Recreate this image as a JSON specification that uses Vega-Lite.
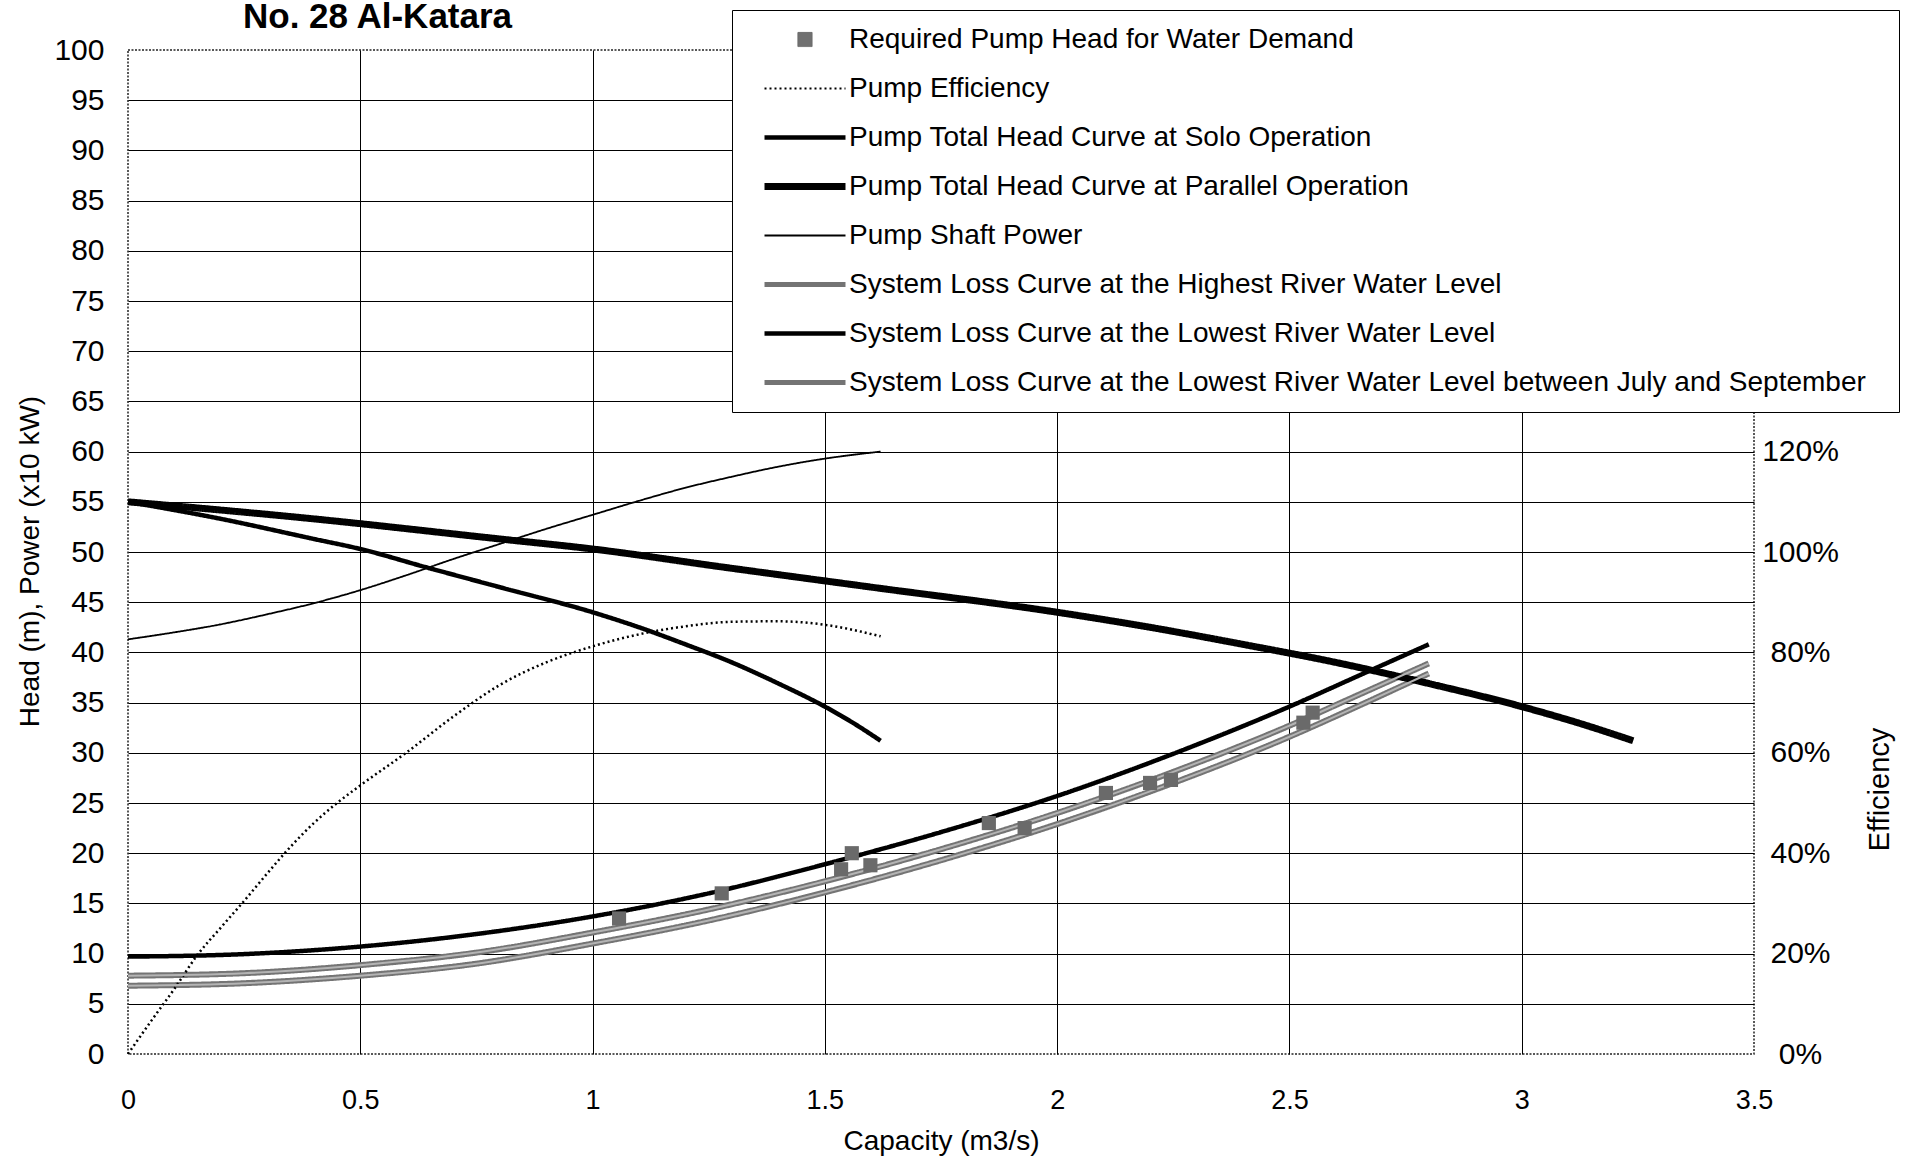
{
  "$schema": "https://vega.github.io/schema/vega-lite/v6.json",
  "width": 1626,
  "height": 1004,
  "autosize": {"type": "none"},
  "padding": {"left": 128, "top": 50, "right": 155, "bottom": 107},
  "background": "white",
  "config": {
    "view": {"stroke": "#222222", "strokeWidth": 1.5, "strokeDash": [2, 1.5]},
    "font": "Liberation Sans"
  },
  "title": {
    "text": "No. 28 Al-Katara",
    "anchor": "start",
    "frame": "group",
    "dx": 115,
    "dy": 59,
    "offset": 6,
    "fontSize": 35,
    "fontWeight": "bold",
    "font": "Liberation Sans",
    "color": "black",
    "baseline": "alphabetic"
  },
  "datasets": {
    "curves": [
      {"series": "System Loss Curve at the Highest River Water Level", "Q": 0, "v": 6.8},
      {"series": "System Loss Curve at the Highest River Water Level", "Q": 0.25, "v": 7.05},
      {"series": "System Loss Curve at the Highest River Water Level", "Q": 0.5, "v": 7.8},
      {"series": "System Loss Curve at the Highest River Water Level", "Q": 0.75, "v": 9.0},
      {"series": "System Loss Curve at the Highest River Water Level", "Q": 1.0, "v": 11.0},
      {"series": "System Loss Curve at the Highest River Water Level", "Q": 1.25, "v": 13.3},
      {"series": "System Loss Curve at the Highest River Water Level", "Q": 1.5, "v": 16.1},
      {"series": "System Loss Curve at the Highest River Water Level", "Q": 1.75, "v": 19.3},
      {"series": "System Loss Curve at the Highest River Water Level", "Q": 2.0, "v": 22.9},
      {"series": "System Loss Curve at the Highest River Water Level", "Q": 2.25, "v": 27.0},
      {"series": "System Loss Curve at the Highest River Water Level", "Q": 2.5, "v": 31.6},
      {"series": "System Loss Curve at the Highest River Water Level", "Q": 2.65, "v": 34.7},
      {"series": "System Loss Curve at the Highest River Water Level", "Q": 2.8, "v": 37.9},
      {"series": "System Loss Curve at the Lowest River Water Level between July and September", "Q": 0, "v": 7.8},
      {"series": "System Loss Curve at the Lowest River Water Level between July and September", "Q": 0.25, "v": 8.05},
      {"series": "System Loss Curve at the Lowest River Water Level between July and September", "Q": 0.5, "v": 8.85},
      {"series": "System Loss Curve at the Lowest River Water Level between July and September", "Q": 0.75, "v": 10.1},
      {"series": "System Loss Curve at the Lowest River Water Level between July and September", "Q": 1.0, "v": 12.1},
      {"series": "System Loss Curve at the Lowest River Water Level between July and September", "Q": 1.25, "v": 14.4},
      {"series": "System Loss Curve at the Lowest River Water Level between July and September", "Q": 1.5, "v": 17.2},
      {"series": "System Loss Curve at the Lowest River Water Level between July and September", "Q": 1.75, "v": 20.4},
      {"series": "System Loss Curve at the Lowest River Water Level between July and September", "Q": 2.0, "v": 24.0},
      {"series": "System Loss Curve at the Lowest River Water Level between July and September", "Q": 2.25, "v": 28.1},
      {"series": "System Loss Curve at the Lowest River Water Level between July and September", "Q": 2.5, "v": 32.7},
      {"series": "System Loss Curve at the Lowest River Water Level between July and September", "Q": 2.65, "v": 35.8},
      {"series": "System Loss Curve at the Lowest River Water Level between July and September", "Q": 2.8, "v": 38.9},
      {"series": "System Loss Curve at the Lowest River Water Level", "Q": 0, "v": 9.7},
      {"series": "System Loss Curve at the Lowest River Water Level", "Q": 0.25, "v": 9.95},
      {"series": "System Loss Curve at the Lowest River Water Level", "Q": 0.5, "v": 10.7},
      {"series": "System Loss Curve at the Lowest River Water Level", "Q": 0.75, "v": 11.95},
      {"series": "System Loss Curve at the Lowest River Water Level", "Q": 1.0, "v": 13.7},
      {"series": "System Loss Curve at the Lowest River Water Level", "Q": 1.25, "v": 16.0},
      {"series": "System Loss Curve at the Lowest River Water Level", "Q": 1.5, "v": 18.9},
      {"series": "System Loss Curve at the Lowest River Water Level", "Q": 1.75, "v": 22.1},
      {"series": "System Loss Curve at the Lowest River Water Level", "Q": 2.0, "v": 25.7},
      {"series": "System Loss Curve at the Lowest River Water Level", "Q": 2.25, "v": 29.9},
      {"series": "System Loss Curve at the Lowest River Water Level", "Q": 2.5, "v": 34.6},
      {"series": "System Loss Curve at the Lowest River Water Level", "Q": 2.65, "v": 37.7},
      {"series": "System Loss Curve at the Lowest River Water Level", "Q": 2.8, "v": 40.8},
      {"series": "Pump Total Head Curve at Solo Operation", "Q": 0, "v": 55.0},
      {"series": "Pump Total Head Curve at Solo Operation", "Q": 0.2, "v": 53.3},
      {"series": "Pump Total Head Curve at Solo Operation", "Q": 0.4, "v": 51.3},
      {"series": "Pump Total Head Curve at Solo Operation", "Q": 0.5, "v": 50.3},
      {"series": "Pump Total Head Curve at Solo Operation", "Q": 0.64, "v": 48.5},
      {"series": "Pump Total Head Curve at Solo Operation", "Q": 0.8, "v": 46.5},
      {"series": "Pump Total Head Curve at Solo Operation", "Q": 1.0, "v": 44.0},
      {"series": "Pump Total Head Curve at Solo Operation", "Q": 1.1, "v": 42.5},
      {"series": "Pump Total Head Curve at Solo Operation", "Q": 1.2, "v": 40.8},
      {"series": "Pump Total Head Curve at Solo Operation", "Q": 1.3, "v": 39.0},
      {"series": "Pump Total Head Curve at Solo Operation", "Q": 1.4, "v": 36.9},
      {"series": "Pump Total Head Curve at Solo Operation", "Q": 1.5, "v": 34.6},
      {"series": "Pump Total Head Curve at Solo Operation", "Q": 1.56, "v": 33.0},
      {"series": "Pump Total Head Curve at Solo Operation", "Q": 1.62, "v": 31.2},
      {"series": "Pump Total Head Curve at Parallel Operation", "Q": 0, "v": 55.0},
      {"series": "Pump Total Head Curve at Parallel Operation", "Q": 0.4, "v": 53.3},
      {"series": "Pump Total Head Curve at Parallel Operation", "Q": 0.8, "v": 51.3},
      {"series": "Pump Total Head Curve at Parallel Operation", "Q": 1.0, "v": 50.3},
      {"series": "Pump Total Head Curve at Parallel Operation", "Q": 1.28, "v": 48.5},
      {"series": "Pump Total Head Curve at Parallel Operation", "Q": 1.6, "v": 46.5},
      {"series": "Pump Total Head Curve at Parallel Operation", "Q": 2.0, "v": 44.0},
      {"series": "Pump Total Head Curve at Parallel Operation", "Q": 2.2, "v": 42.5},
      {"series": "Pump Total Head Curve at Parallel Operation", "Q": 2.4, "v": 40.8},
      {"series": "Pump Total Head Curve at Parallel Operation", "Q": 2.6, "v": 39.0},
      {"series": "Pump Total Head Curve at Parallel Operation", "Q": 2.8, "v": 36.9},
      {"series": "Pump Total Head Curve at Parallel Operation", "Q": 3.0, "v": 34.6},
      {"series": "Pump Total Head Curve at Parallel Operation", "Q": 3.12, "v": 33.0},
      {"series": "Pump Total Head Curve at Parallel Operation", "Q": 3.24, "v": 31.2},
      {"series": "Pump Shaft Power", "Q": 0, "v": 41.3},
      {"series": "Pump Shaft Power", "Q": 0.1, "v": 42.0},
      {"series": "Pump Shaft Power", "Q": 0.2, "v": 42.8},
      {"series": "Pump Shaft Power", "Q": 0.3, "v": 43.8},
      {"series": "Pump Shaft Power", "Q": 0.4, "v": 44.9},
      {"series": "Pump Shaft Power", "Q": 0.5, "v": 46.2},
      {"series": "Pump Shaft Power", "Q": 0.6, "v": 47.7},
      {"series": "Pump Shaft Power", "Q": 0.7, "v": 49.3},
      {"series": "Pump Shaft Power", "Q": 0.8, "v": 50.8},
      {"series": "Pump Shaft Power", "Q": 0.9, "v": 52.3},
      {"series": "Pump Shaft Power", "Q": 1.0, "v": 53.7},
      {"series": "Pump Shaft Power", "Q": 1.1, "v": 55.1},
      {"series": "Pump Shaft Power", "Q": 1.2, "v": 56.4},
      {"series": "Pump Shaft Power", "Q": 1.3, "v": 57.5},
      {"series": "Pump Shaft Power", "Q": 1.4, "v": 58.5},
      {"series": "Pump Shaft Power", "Q": 1.5, "v": 59.3},
      {"series": "Pump Shaft Power", "Q": 1.62, "v": 60.0}
    ],
    "eff": [
      {"series": "Pump Efficiency", "Q": 0, "eff": 0},
      {"series": "Pump Efficiency", "Q": 0.05, "eff": 0.066},
      {"series": "Pump Efficiency", "Q": 0.1, "eff": 0.13},
      {"series": "Pump Efficiency", "Q": 0.15, "eff": 0.198},
      {"series": "Pump Efficiency", "Q": 0.2, "eff": 0.252},
      {"series": "Pump Efficiency", "Q": 0.25, "eff": 0.305},
      {"series": "Pump Efficiency", "Q": 0.3, "eff": 0.36},
      {"series": "Pump Efficiency", "Q": 0.35, "eff": 0.413},
      {"series": "Pump Efficiency", "Q": 0.4, "eff": 0.46},
      {"series": "Pump Efficiency", "Q": 0.45, "eff": 0.5},
      {"series": "Pump Efficiency", "Q": 0.5, "eff": 0.535},
      {"series": "Pump Efficiency", "Q": 0.6, "eff": 0.601},
      {"series": "Pump Efficiency", "Q": 0.7, "eff": 0.672},
      {"series": "Pump Efficiency", "Q": 0.8, "eff": 0.735},
      {"series": "Pump Efficiency", "Q": 0.9, "eff": 0.78},
      {"series": "Pump Efficiency", "Q": 1.0, "eff": 0.812},
      {"series": "Pump Efficiency", "Q": 1.1, "eff": 0.836},
      {"series": "Pump Efficiency", "Q": 1.2, "eff": 0.852},
      {"series": "Pump Efficiency", "Q": 1.3, "eff": 0.861},
      {"series": "Pump Efficiency", "Q": 1.4, "eff": 0.862},
      {"series": "Pump Efficiency", "Q": 1.5, "eff": 0.855},
      {"series": "Pump Efficiency", "Q": 1.62, "eff": 0.832}
    ],
    "demand": [
      {"Q": 1.057, "v": 13.5},
      {"Q": 1.278, "v": 16.0},
      {"Q": 1.535, "v": 18.4},
      {"Q": 1.558, "v": 20.0},
      {"Q": 1.598, "v": 18.8},
      {"Q": 1.853, "v": 23.0},
      {"Q": 1.93, "v": 22.5},
      {"Q": 2.105, "v": 26.0},
      {"Q": 2.2, "v": 27.0},
      {"Q": 2.245, "v": 27.3},
      {"Q": 2.53, "v": 33.0},
      {"Q": 2.55, "v": 34.0}
    ]
  },
  "resolve": {"scale": {"y": "independent"}, "axis": {"y": "independent"}},
  "layer": [
    {
      "data": {"name": "curves"},
      "mark": {"type": "line", "interpolate": "monotone", "strokeCap": "butt"},
      "encoding": {
        "x": {
          "field": "Q",
          "type": "quantitative",
          "scale": {"domain": [0, 3.5], "nice": false, "zero": false},
          "axis": {
            "values": [0, 0.5, 1, 1.5, 2, 2.5, 3, 3.5],
            "format": "~g",
            "grid": true,
            "gridColor": "black",
            "gridWidth": 1,
            "gridOpacity": {"condition": {"test": "datum.value == 0 || datum.value == 3.5", "value": 0}, "value": 1},
            "ticks": false,
            "domain": false,
            "labelPadding": 33,
            "labelFont": "Liberation Sans",
            "labelFontSize": 27,
            "labelFlush": false,
            "labelOverlap": false,
            "labelColor": "black",
            "title": "Capacity (m3/s)",
            "titleFont": "Liberation Sans",
            "titleFontSize": 28,
            "titleFontWeight": "normal",
            "titleColor": "black",
            "titleY": 87,
            "titleBaseline": "middle"
          }
        },
        "y": {
          "field": "v",
          "type": "quantitative",
          "scale": {"domain": [0, 100], "nice": false},
          "axis": {
            "values": [0, 5, 10, 15, 20, 25, 30, 35, 40, 45, 50, 55, 60, 65, 70, 75, 80, 85, 90, 95, 100],
            "grid": true,
            "gridColor": "black",
            "gridWidth": 1,
            "gridOpacity": {"condition": {"test": "datum.value == 0 || datum.value == 100", "value": 0}, "value": 1},
            "ticks": false,
            "domain": false,
            "labelPadding": 24,
            "labelFont": "Liberation Sans",
            "labelFontSize": 30,
            "labelOverlap": false,
            "labelColor": "black",
            "title": "Head (m), Power (x10 kW)",
            "titleFont": "Liberation Sans",
            "titleFontSize": 28,
            "titleFontWeight": "normal",
            "titleColor": "black",
            "titleAngle": 270,
            "titleX": -98,
            "titleY": 511,
            "titleAlign": "center",
            "titleBaseline": "middle"
          }
        },
        "color": {
          "field": "series",
          "type": "nominal",
          "scale": {
            "domain": [
              "Required Pump Head for Water Demand",
              "Pump Efficiency",
              "Pump Total Head Curve at Solo Operation",
              "Pump Total Head Curve at Parallel Operation",
              "Pump Shaft Power",
              "System Loss Curve at the Highest River Water Level",
              "System Loss Curve at the Lowest River Water Level",
              "System Loss Curve at the Lowest River Water Level between July and September"
            ],
            "range": ["#6a6a6a", "#000000", "#000000", "#000000", "#000000", "#747474", "#000000", "#747474"]
          },
          "legend": {
            "title": " ",
            "titleOrient": "right",
            "titlePadding": 28,
            "titleFontSize": 8,
            "orient": "none",
            "legendX": 604,
            "legendY": -40,
            "fillColor": "white",
            "strokeColor": "black",
            "padding": 5,
            "clipHeight": 49,
            "rowPadding": 0,
            "symbolSize": 6561,
            "symbolType": "stroke",
            "symbolOffset": 24,
            "labelOffset": 0,
            "labelFont": "Liberation Sans",
            "labelFontSize": 28,
            "labelColor": "black",
            "labelLimit": 2000,
            "encode": {
              "symbols": {
                "update": {
                  "shape": {"signal": "(datum.value === 'Required Pump Head for Water Demand' ? 'square' : 'stroke')"},
                  "size": {"signal": "(datum.value === 'Required Pump Head for Water Demand' ? 200 : 6561)"},
                  "fill": {"signal": "(datum.value === 'Required Pump Head for Water Demand' ? '#707070' : 'transparent')"},
                  "strokeWidth": {"signal": "(datum && datum.value ? (datum.value === 'Pump Total Head Curve at Parallel Operation' ? 7 : datum.value === 'Pump Total Head Curve at Solo Operation' ? 4.5 : datum.value === 'System Loss Curve at the Lowest River Water Level' ? 4.5 : datum.value === 'System Loss Curve at the Highest River Water Level' ? 5 : datum.value === 'System Loss Curve at the Lowest River Water Level between July and September' ? 5 : datum.value === 'Pump Efficiency' ? 2 : datum.value === 'Pump Shaft Power' ? 2 : 1) : 7)"}
                }
              }
            }
          }
        },
        "strokeDash": {
          "field": "series",
          "type": "nominal",
          "scale": {
            "domain": [
              "Required Pump Head for Water Demand",
              "Pump Efficiency",
              "Pump Total Head Curve at Solo Operation",
              "Pump Total Head Curve at Parallel Operation",
              "Pump Shaft Power",
              "System Loss Curve at the Highest River Water Level",
              "System Loss Curve at the Lowest River Water Level",
              "System Loss Curve at the Lowest River Water Level between July and September"
            ],
            "range": [[1, 0], [2, 3], [1, 0], [1, 0], [1, 0], [1, 0], [1, 0], [1, 0]]
          }
        },
        "strokeWidth": {
          "field": "series",
          "type": "nominal",
          "scale": {
            "type": "ordinal",
            "domain": [
              "Required Pump Head for Water Demand",
              "Pump Efficiency",
              "Pump Total Head Curve at Solo Operation",
              "Pump Total Head Curve at Parallel Operation",
              "Pump Shaft Power",
              "System Loss Curve at the Highest River Water Level",
              "System Loss Curve at the Lowest River Water Level",
              "System Loss Curve at the Lowest River Water Level between July and September"
            ],
            "range": [1, 2.2, 4.5, 7, 1.8, 6, 4.5, 6]
          }
        }
      }
    },
    {
      "data": {"name": "eff"},
      "mark": {"type": "line", "interpolate": "monotone", "strokeCap": "butt"},
      "encoding": {
        "x": {"field": "Q", "type": "quantitative"},
        "y": {
          "field": "eff",
          "type": "quantitative",
          "scale": {"domain": [0, 2], "nice": false},
          "axis": {
            "orient": "right",
            "values": [0, 0.2, 0.4, 0.6, 0.8, 1.0, 1.2],
            "format": ".0%",
            "grid": false,
            "ticks": false,
            "domain": false,
            "labelPadding": 46,
            "labelAlign": "center",
            "labelFont": "Liberation Sans",
            "labelFontSize": 30,
            "labelOverlap": false,
            "labelColor": "black",
            "title": "Efficiency",
            "titleFont": "Liberation Sans",
            "titleFontSize": 29,
            "titleFontWeight": "normal",
            "titleColor": "black",
            "titleAngle": 270,
            "titleX": 125,
            "titleY": 739,
            "titleAlign": "center",
            "titleBaseline": "middle"
          }
        },
        "color": {"field": "series", "type": "nominal"},
        "strokeDash": {"field": "series", "type": "nominal"},
        "strokeWidth": {"field": "series", "type": "nominal"}
      }
    },
    {
      "data": {"name": "curves"},
      "transform": [
        {"filter": "datum.series === 'System Loss Curve at the Highest River Water Level' || datum.series === 'System Loss Curve at the Lowest River Water Level between July and September'"}
      ],
      "mark": {"type": "line", "interpolate": "monotone", "color": "#b4b4b4", "strokeWidth": 2},
      "encoding": {
        "x": {"field": "Q", "type": "quantitative"},
        "y": {"field": "v", "type": "quantitative", "scale": {"domain": [0, 100], "nice": false}, "axis": null},
        "detail": {"field": "series", "type": "nominal"}
      }
    },
    {
      "data": {"name": "demand"},
      "mark": {"type": "square", "size": 200, "color": "#6a6a6a", "opacity": 1, "filled": true},
      "encoding": {
        "x": {"field": "Q", "type": "quantitative"},
        "y": {"field": "v", "type": "quantitative", "scale": {"domain": [0, 100], "nice": false}, "axis": null}
      }
    }
  ]
}
